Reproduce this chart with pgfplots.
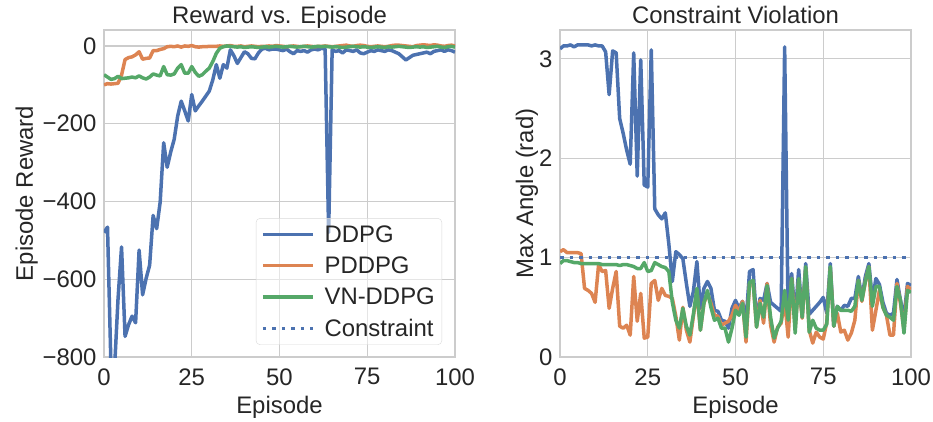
\documentclass[border=0pt]{standalone}
\usepackage{fontspec}
\setmainfont{Liberation Sans}
\usepackage{pgfplots}
\usepackage{pgfplotstable}
\pgfplotsset{compat=1.18}

\definecolor{c0}{HTML}{4C72B0}
\definecolor{c1}{HTML}{DD8452}
\definecolor{c2}{HTML}{55A868}
\definecolor{gridc}{HTML}{CCCCCC}
\definecolor{textc}{HTML}{262626}

% left panel: episode reward
\pgfplotstableread{
ep ddpg pddpg vn
0 -480 -100 -74
1 -466 -97 -80
2 -830 -98 -86
3 -830 -97 -84
4 -650 -96 -78
5 -517 -75 -84
6 -747 -35 -83
7 -717 -30 -82
8 -695 -28 -80
9 -712 -23 -82
10 -525 -15 -77
11 -640 -34 -82
12 -598 -32 -85
13 -564 -31 -80
14 -436 -12 -72
15 -470 -12 -75
16 -402 -9 -77
17 -249 -7 -53
18 -312 -2 -74
19 -273 -1 -75
20 -240 -2 -72
21 -180 0 -57
22 -142 -3 -48
23 -167 0 -70
24 -193 -1 -70
25 -125 1 -53
26 -167 -2 -68
27 -154 -3 -78
28 -142 -2 -74
29 -129 -2 -65
30 -116 -1 -57
31 -87 -1 -40
32 -48 -1 -19
33 -83 0 -6
34 -48 -1 -2
35 -57 0 0
36 -10 1 -1
37 -25 -1 -2
38 -45 -1 -3
39 -30 0 -2
40 -15 -2 -4
41 -20 -1 -3
42 -32 0 -2
43 -33 -1 -3
44 -18 -2 -4
45 -8 -1 -3
46 -6 -1 -2
47 -10 0 -3
48 -8 -1 -2
49 -8 1 -1
50 -10 0 -2
51 -12 -1 -3
52 -8 -2 -2
53 -15 -1 -1
54 -20 0 -2
55 -12 -1 -3
56 -14 -2 -2
57 -12 -1 -1
58 -16 0 -2
59 -10 -1 -3
60 -8 -2 -2
61 -10 -1 -1
62 -6 -1 -2
63 -8 0 -1
64 -480 -1 -2
65 -10 -2 -3
66 -14 -1 -2
67 -12 0 -3
68 -18 1 -4
69 -10 2 -3
70 -12 0 -2
71 -14 -1 -1
72 -10 1 -2
73 -18 2 -3
74 -20 1 -2
75 -16 -1 -3
76 -12 -2 -4
77 -14 -1 -3
78 -10 0 -2
79 -12 -1 -3
80 -14 -2 -4
81 -10 -1 -2
82 -12 1 -3
83 -16 2 -2
84 -20 2 -1
85 -28 1 -2
86 -36 0 -3
87 -30 -1 -4
88 -24 -2 -3
89 -22 1 -2
90 -20 2 -3
91 -18 3 -2
92 -16 2 -4
93 -20 1 -3
94 -14 3 -2
95 -12 2 -1
96 -10 0 -3
97 -14 -1 -4
98 -10 1 -2
99 -12 2 -1
100 -16 0 -3
}\rewardtab

% right panel: max angle
\pgfplotstableread{
ep ddpg pddpg vn
0 3.10 1.06 0.94
1 3.13 1.08 0.97
2 3.13 1.05 0.97
3 3.14 1.05 0.96
4 3.12 1.05 0.95
5 3.14 1.05 0.95
6 3.14 1.04 0.94
7 3.14 0.69 0.94
8 3.14 0.67 0.94
9 3.13 0.64 0.94
10 3.14 0.55 0.94
11 3.13 0.93 0.94
12 3.13 0.86 0.93
13 3.07 0.87 0.93
14 2.64 0.49 0.93
15 3.08 0.69 0.93
16 3.06 0.86 0.93
17 2.40 0.31 0.92
18 2.25 0.29 0.93
19 2.08 0.32 0.93
20 1.94 0.22 0.92
21 3.06 0.81 0.91
22 1.82 0.36 0.89
23 2.99 0.64 0.89
24 1.73 0.19 0.95
25 1.71 0.20 0.86
26 3.09 0.74 0.87
27 1.49 0.77 0.95
28 1.43 0.57 0.93
29 1.39 0.69 0.91
30 1.45 0.62 0.90
31 1.14 0.61 0.86
32 0.76 0.59 0.55
33 1.06 0.41 0.37
34 1.03 0.17 0.29
35 0.99 0.50 0.49
36 0.74 0.27 0.31
37 0.51 0.15 0.22
38 0.66 0.41 0.43
39 0.96 0.66 0.69
40 0.49 0.27 0.27
41 0.69 0.54 0.54
42 0.76 0.64 0.67
43 0.69 0.54 0.50
44 0.47 0.42 0.37
45 0.46 0.41 0.39
46 0.37 0.32 0.29
47 0.36 0.34 0.29
48 0.29 0.36 0.15
49 0.49 0.42 0.29
50 0.57 0.52 0.47
51 0.49 0.46 0.42
52 0.56 0.56 0.54
53 0.36 0.15 0.20
54 0.86 0.74 0.75
55 0.88 0.76 0.77
56 0.37 0.30 0.30
57 0.59 0.57 0.54
58 0.57 0.34 0.40
59 0.74 0.74 0.72
60 0.55 0.32 0.40
61 0.52 0.15 0.19
62 0.49 0.30 0.29
63 0.46 0.34 0.36
64 3.12 0.57 0.67
65 0.40 0.20 0.37
66 0.84 0.79 0.79
67 0.40 0.29 0.24
68 0.88 0.77 0.79
69 0.40 0.39 0.40
70 0.94 0.89 0.91
71 0.43 0.27 0.25
72 0.47 0.14 0.37
73 0.51 0.25 0.29
74 0.55 0.20 0.27
75 0.60 0.18 0.27
76 0.44 0.35 0.33
77 0.94 0.89 0.91
78 0.31 0.31 0.31
79 0.51 0.44 0.51
80 0.47 0.25 0.47
81 0.52 0.27 0.47
82 0.51 0.17 0.47
83 0.59 0.24 0.46
84 0.59 0.37 0.51
85 0.81 0.77 0.77
86 0.59 0.56 0.57
87 0.81 0.76 0.76
88 0.94 0.91 0.91
89 0.57 0.27 0.51
90 0.79 0.47 0.71
91 0.73 0.67 0.71
92 0.55 0.50 0.50
93 0.44 0.42 0.42
94 0.42 0.22 0.40
95 0.44 0.22 0.37
96 0.78 0.74 0.71
97 0.57 0.54 0.57
98 0.40 0.27 0.24
99 0.74 0.71 0.67
100 0.72 0.68 0.65
}\angletab

\pgfplotsset{
  sns/.style={
    scale only axis, width=351bp, height=327bp,
    xmin=0, xmax=100, xtick={0,25,50,75,100},
    grid=major, major grid style={draw=gridc, line width=1.2bp},
    axis line style={draw=gridc, line width=1.4bp},
    major tick length=0pt,
    tick label style={font=\fontsize{24}{28}\selectfont, text=textc},
    xticklabel style={yshift=-8bp},
    yticklabel style={xshift=-4bp},
    label style={font=\fontsize{24}{28}\selectfont, text=textc},
    title style={font=\fontsize{24}{28}\selectfont, text=textc,
      at={(axis description cs:0.5,1)}, anchor=base, yshift=1bp},
    xlabel style={at={(axis description cs:0.5,0)}, anchor=base, yshift=-56bp},
    /pgf/number format/assume math mode=true,
    every axis plot/.append style={line width=3.5bp, line join=round},
    xlabel={Episode},
  }
}

\begin{document}
\begin{tikzpicture}
\path[use as bounding box] (-104bp,-65bp) rectangle (829bp,357bp);
\begin{axis}[sns,
  at={(0bp,0bp)}, anchor=south west,
  title={Reward vs. Episode},
  ylabel={Episode Reward},
  % the label is rotated, so yshift moves it to the left
  ylabel style={at={(axis description cs:0,0.5)}, anchor=base, yshift=71bp},
  ymin=-800, ymax=41,
  ytick={-800,-600,-400,-200,0},
  yticklabels={−800,−600,−400,−200,0},
  legend style={font=\fontsize{24}{28}\selectfont, text=textc,
    at={(0.963,0.037)}, anchor=south east,
    draw=black!15, rounded corners=4bp, fill=white, fill opacity=0.5, text opacity=1,
    row sep=9bp, inner xsep=5bp, inner ysep=5bp,
    /tikz/every odd column/.append style={column sep=8bp}},
  legend cell align=left,
  legend image code/.code={\draw[#1] (0bp,0bp) -- (50bp,0bp);},
]
\addplot[c0] table[x=ep, y=ddpg] {\rewardtab};
\addlegendentry{DDPG}
\addplot[c1] table[x=ep, y=pddpg] {\rewardtab};
\addlegendentry{PDDPG}
\addplot[c2] table[x=ep, y=vn] {\rewardtab};
\addlegendentry{VN-DDPG}
\addlegendimage{c0, line width=3.5bp, dash pattern=on 3.5bp off 6bp}
\addlegendentry{Constraint}
\end{axis}

\begin{axis}[sns,
  at={(456bp,0bp)}, anchor=south west,
  title={Constraint Violation},
  ylabel={Max Angle (rad)},
  ylabel style={at={(axis description cs:0,0.5)}, anchor=base, yshift=27bp},
  ymin=0, ymax=3.29,
  ytick={0,1,2,3},
]
\addplot[c0] table[x=ep, y=ddpg] {\angletab};
\addplot[c1] table[x=ep, y=pddpg] {\angletab};
\addplot[c2] table[x=ep, y=vn] {\angletab};
\addplot[c0, dash pattern=on 3.5bp off 6bp] coordinates {(0,1) (100,1)};
\end{axis}
\end{tikzpicture}
\end{document}
